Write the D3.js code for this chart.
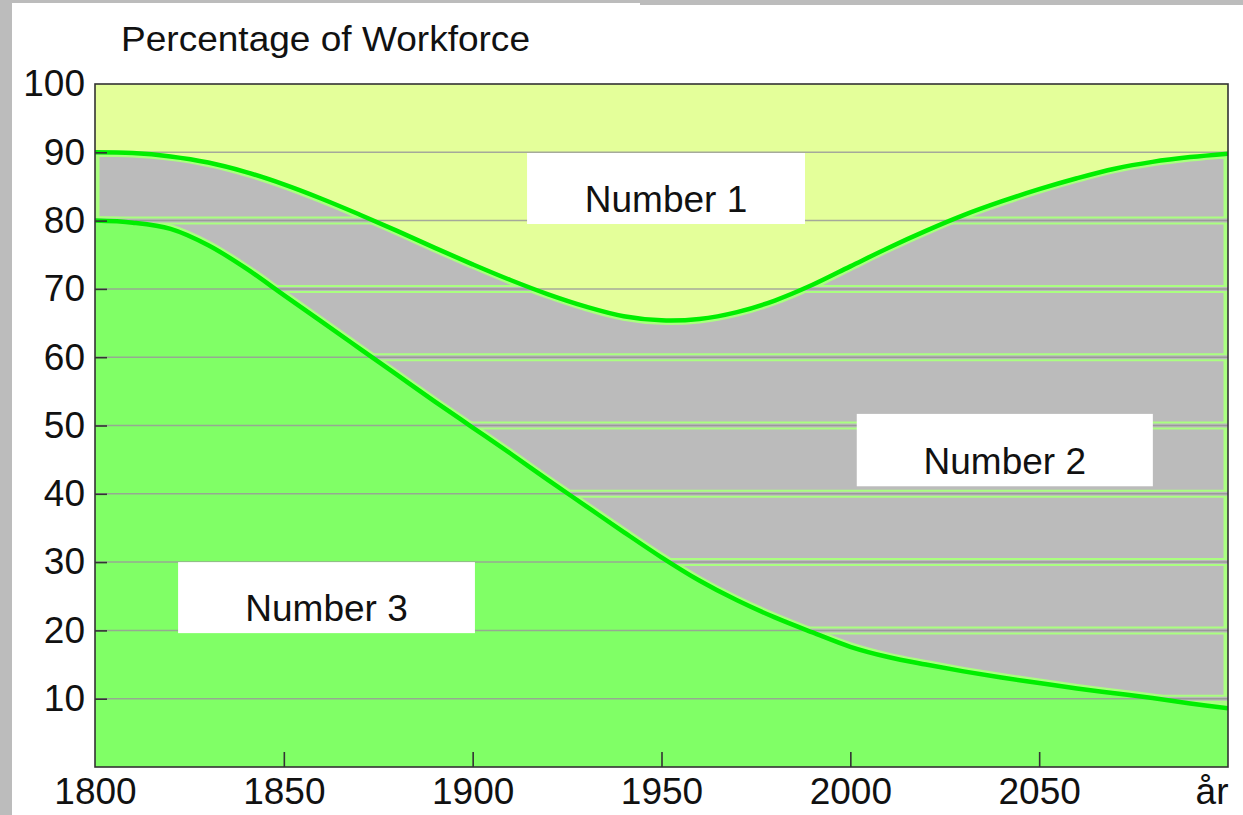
<!DOCTYPE html>
<html>
<head>
<meta charset="utf-8">
<script src="https://cdn.jsdelivr.net/npm/d3@7"></script>
<style>
  body { margin: 0; background: #fff; }
  svg { display: block; font-family: "Liberation Sans", Arial, sans-serif; }
</style>
</head>
<body>
<div id="chart"></div>
<script>
// data
const years = [1800, 1810, 1820, 1830, 1840, 1850, 1860, 1870, 1880, 1890, 1900,
  1910, 1920, 1930, 1940, 1950, 1960, 1970, 1980, 1990, 2000,
  2010, 2020, 2030, 2040, 2050, 2060, 2070, 2080, 2090, 2100];
// top of "Number 2" band (= 100 - Number 1)
const upper = [90.0, 89.9, 89.4, 88.5, 87.1, 85.3, 83.2, 80.9, 78.5, 76.0, 73.6,
  71.3, 69.2, 67.4, 66.0, 65.4, 65.6, 66.6, 68.3, 70.6, 73.3,
  76.0, 78.5, 80.8, 82.8, 84.6, 86.2, 87.6, 88.6, 89.3, 89.8];
// top of "Number 3" band
const lower = [80.0, 79.7, 78.8, 76.4, 73.0, 69.1, 65.2, 61.3, 57.4, 53.5, 49.7,
  45.9, 42.0, 38.2, 34.4, 30.7, 27.3, 24.4, 21.9, 19.7, 17.6,
  16.1, 15.0, 14.0, 13.1, 12.3, 11.5, 10.8, 10.1, 9.3, 8.6];
const yTicks = [10, 20, 30, 40, 50, 60, 70, 80, 90, 100];
const xTicks = [1800, 1850, 1900, 1950, 2000, 2050, 2100];
const xLastLabel = "år";
const title = "Percentage of Workforce";
const bandNames = ["Number 1", "Number 2", "Number 3"];

const W = 1243, H = 815;
const x = d3.scaleLinear().domain([1800, 2100]).range([95, 1228]);
const y = d3.scaleLinear().domain([0, 100]).range([767, 84]);

// label boxes, in chart units: [year0, year1, pct0, pct1]
const boxes = [
  [1914.4, 1988.0, 79.5, 89.9],
  [2001.7, 2080.1, 41.1, 51.7],
  [1822.0, 1900.6, 19.6, 30.0]
];

const rows = years.map((yr, i) => ({ yr, up: upper[i], lo: lower[i] }));
const curve = d3.curveCatmullRom.alpha(0.5);

const svg = d3.select("#chart").append("svg")
  .attr("width", W).attr("height", H);

// grey frame strips of the original screenshot
svg.append("rect").attr("x", 0).attr("y", 0).attr("width", 12).attr("height", H).attr("fill", "#bcbcbc");
svg.append("rect").attr("x", 0).attr("y", 0).attr("width", 640).attr("height", 3).attr("fill", "#bcbcbc");
svg.append("rect").attr("x", 640).attr("y", 0).attr("width", W - 640).attr("height", 5).attr("fill", "#bcbcbc");

const midArea = d3.area().curve(curve)
  .x(d => x(d.yr)).y0(d => y(d.lo)).y1(d => y(d.up));
const topArea = d3.area().curve(curve)
  .x(d => x(d.yr)).y0(d => y(d.up)).y1(y(100));
const botArea = d3.area().curve(curve)
  .x(d => x(d.yr)).y0(y(0)).y1(d => y(d.lo));

const defs = svg.append("defs");
defs.append("clipPath").attr("id", "midclip")
  .append("path").attr("d", midArea(rows));
defs.append("clipPath").attr("id", "plotclip")
  .append("rect").attr("x", x(1800)).attr("y", y(100))
  .attr("width", x(2100) - x(1800)).attr("height", y(0) - y(100));

const plot = svg.append("g").attr("clip-path", "url(#plotclip)");

// middle band (grey) with light green rim
plot.append("path").attr("d", midArea(rows))
  .attr("fill", "#bbbbbb").attr("stroke", "#aaff80").attr("stroke-width", 9);

plot.append("path").attr("d", topArea(rows)).attr("fill", "#e4ff9a");
plot.append("path").attr("d", botArea(rows)).attr("fill", "#80ff66");

// grid lines
const gridVals = yTicks.filter(t => t < 100);
plot.append("g").selectAll("line").data(gridVals).join("line")
  .attr("x1", x(1800)).attr("x2", x(2100))
  .attr("y1", d => y(d)).attr("y2", d => y(d))
  .attr("stroke", "#9a9a9a").attr("stroke-opacity", 0.85).attr("stroke-width", 1.5);
const gridMid = plot.append("g").attr("clip-path", "url(#midclip)");
[["#aaff80", 8], ["#bbbbbb", 4], ["#9a9a9a", 1.5]].forEach(([c, w]) => {
  gridMid.append("g").selectAll("line").data(gridVals).join("line")
    .attr("x1", x(1800)).attr("x2", x(2100))
    .attr("y1", d => y(d)).attr("y2", d => y(d))
    .attr("stroke", c).attr("stroke-width", w);
});

// boundary lines
const line = (key) => d3.line().curve(curve).x(d => x(d.yr)).y(d => y(d[key]));
["up", "lo"].forEach(k => {
  plot.append("path").attr("d", line(k)(rows))
    .attr("fill", "none").attr("stroke", "#00ee00").attr("stroke-width", 4.5);
});

// frame
svg.append("rect")
  .attr("x", x(1800)).attr("y", y(100))
  .attr("width", x(2100) - x(1800)).attr("height", y(0) - y(100))
  .attr("fill", "none").attr("stroke", "#333").attr("stroke-width", 1.6);

// axes
const xAxis = svg.append("g").attr("transform", `translate(0,${y(0)})`)
  .call(d3.axisBottom(x).tickValues(xTicks).tickSize(-15).tickPadding(11)
    .tickFormat(d => d === 2100 ? xLastLabel : d));
xAxis.select(".domain").remove();
xAxis.selectAll("line").attr("stroke", "#333").attr("stroke-width", 1.6)
  .filter(d => d === 1800 || d === 2100).remove();
xAxis.selectAll("text").attr("font-size", 37).attr("fill", "#111")
  .attr("font-family", "Liberation Sans, Arial, sans-serif")
  .filter(d => d === 2100).attr("text-anchor", "end");

const yAxis = svg.append("g").attr("transform", `translate(${x(1800)},0)`)
  .call(d3.axisLeft(y).tickValues(yTicks).tickSize(-12).tickPadding(10));
yAxis.select(".domain").remove();
yAxis.selectAll("line").attr("stroke", "#333").attr("stroke-width", 1.6)
  .filter(d => d === 100).remove();
yAxis.selectAll("text").attr("font-size", 37).attr("fill", "#111")
  .attr("font-family", "Liberation Sans, Arial, sans-serif");

// label boxes
const notes = svg.append("g").selectAll("g").data(boxes).join("g");
notes.append("rect")
  .attr("x", d => x(d[0])).attr("y", d => y(d[3]))
  .attr("width", d => x(d[1]) - x(d[0])).attr("height", d => y(d[2]) - y(d[3]))
  .attr("fill", "#fff");
notes.append("text")
  .attr("x", d => (x(d[0]) + x(d[1])) / 2)
  .attr("y", d => y(d[2]) - 12)
  .attr("text-anchor", "middle").attr("font-size", 37).attr("fill", "#111")
  .text((d, i) => bandNames[i]);

// title
svg.append("text").attr("x", 121).attr("y", 51)
  .attr("font-size", 35).attr("fill", "#111")
  .attr("textLength", 409).attr("lengthAdjust", "spacingAndGlyphs")
  .text(title);
</script>
</body>
</html>
